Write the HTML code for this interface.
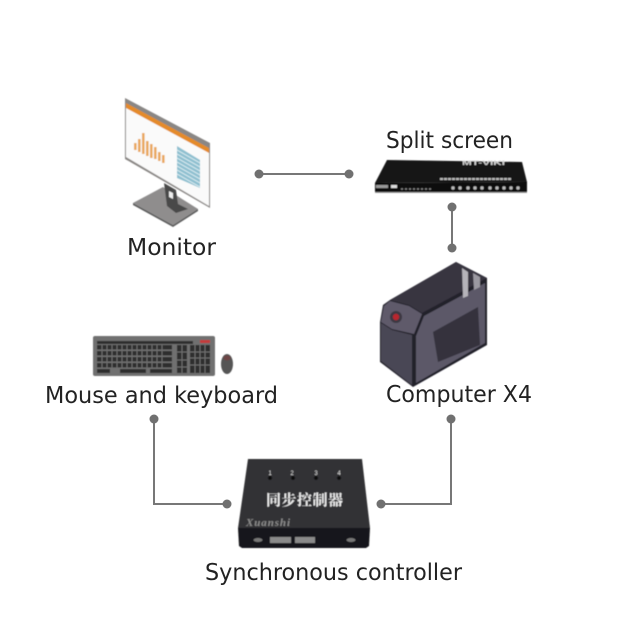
<!DOCTYPE html>
<html><head><meta charset="utf-8"><style>
html,body{margin:0;padding:0;background:#fff;width:640px;height:640px;overflow:hidden}
svg{display:block}
.t{font-family:"DejaVu Sans","Liberation Sans",sans-serif;font-size:23px;fill:#222}
</style></head><body>
<svg width="640" height="640" viewBox="0 0 640 640" xmlns="http://www.w3.org/2000/svg">
<defs><filter id="b" x="-5%" y="-5%" width="110%" height="110%"><feGaussianBlur stdDeviation="0.45"/></filter></defs>
<rect width="640" height="640" fill="#fff"/>
<!-- connectors -->
<g stroke="#777" stroke-width="2" fill="none">
<path d="M259 174H349"/><path d="M452 207V248"/><path d="M154 419V504H227"/><path d="M451 419V504H381"/>
</g>
<g fill="#707070">
<circle cx="259" cy="174" r="4.5"/><circle cx="349" cy="174" r="4.5"/><circle cx="452" cy="207" r="4.5"/><circle cx="452" cy="248" r="4.5"/>
<circle cx="154" cy="419" r="4.5"/><circle cx="227" cy="504" r="4.5"/><circle cx="451" cy="419" r="4.5"/><circle cx="381" cy="504" r="4.5"/>
</g>
<g filter="url(#b)">
<!-- monitor -->
<polygon points="133,203 163,187 198,209 173,225" fill="#8f8d8d"/>
<polygon points="133,203 173,225 198,209 198,211 173,227 133,205" fill="#5c5c5c"/>
<polygon points="164,183 176,190 178,204 188,209 176,213 167,206" fill="#4a4a4a"/>
<polygon points="169,191 173,193 173,199 169,197" fill="#eee"/>
<polygon points="125,98 210,143 210,208 125,159" fill="#8a8785"/>
<polygon points="126,105 209,150 209,206 126,157" fill="#fafafa"/>
<polygon points="126,103 209,148 209,153 126,108" fill="#e48b2c"/>
<g fill="#e9a85d">
<rect x="134" y="143" width="2.6" height="7"/><rect x="138" y="139" width="2.6" height="13"/><rect x="142" y="133" width="2.6" height="21"/><rect x="146" y="141" width="2.6" height="15"/><rect x="150" y="144" width="2.6" height="14"/><rect x="154" y="147" width="2.6" height="12"/><rect x="158" y="152" width="2.6" height="9"/><rect x="162" y="155" width="2.6" height="8"/>
</g>
<polygon points="177,146 200,160 200,188 177,178" fill="#8fc0d0"/>
<g stroke="#e4f1f5" stroke-width=".9">
<path d="M177 150L200 163M177 154L200 167M177 158L200 171M177 162L200 175M177 166L200 179M177 170L200 183M177 174L200 187"/>
</g>
<!-- split screen -->
<polygon points="387,160 522,162 527,182 375,183" fill="#161616"/>
<polygon points="375,183 527,182 527,192 375,192" fill="#0a0a0a"/>
<polygon points="375,192 527,192 527,193 375,193" fill="#999"/>
<text x="462" y="165" font-family="'Liberation Sans',sans-serif" font-size="6" font-weight="bold" fill="#d5d5d5" textLength="43" lengthAdjust="spacingAndGlyphs">MT-VIKI</text>
<path d="M440 179H511" stroke="#bbb" stroke-width="2" stroke-dasharray="3 1"/>
<rect x="376" y="185" width="12" height="3" fill="#999"/><rect x="391" y="185" width="6" height="3" fill="#ddd"/>
<path d="M401 189H432" stroke="#888" stroke-width="1.5" stroke-dasharray="2 2"/>
<g fill="#bbb">
<circle cx="453" cy="188" r="1.7"/><circle cx="460" cy="188" r="1.7"/><circle cx="468" cy="188" r="1.7"/><circle cx="475" cy="188" r="1.7"/><circle cx="482" cy="188" r="1.7"/><circle cx="490" cy="188" r="1.7"/><circle cx="497" cy="188" r="1.7"/><circle cx="504" cy="188" r="1.7"/><circle cx="511" cy="188" r="1.7"/><circle cx="518" cy="188" r="1.7"/>
</g>
<!-- computer -->
<polygon points="456,262 487,278 487,345 413,387 380,362 380,322 383,305 390,300" fill="#23212b"/>
<polygon points="390,300 456,262 487,278 422,313 409,305" fill="#383541"/>
<polygon points="390,301 409,306 422,314 414,334 392,329 381,322 384,306" fill="#5e5a6a"/>
<polygon points="381,323 392,330 412,335 412,385 381,361" fill="#4a4654"/>
<polygon points="416,336 424,316 485,283 485,343 416,383" fill="#5c5868"/>
<polygon points="433,332 478,307 480,345 438,362" fill="#34313c"/>
<polygon points="462,268 468,272 468,296 463,298" fill="#b5b3b9"/>
<polygon points="473,273 480,277 480,287 474,290" fill="#9b99a1"/>
<circle cx="396" cy="317" r="6" fill="#3d3742"/><circle cx="396" cy="317" r="3.2" fill="#b8282e"/>
<!-- keyboard -->
<rect x="93" y="336" width="122" height="40" rx="2" fill="#707070"/>
<g fill="#2d2d2d">
<rect x="97" y="341" width="96" height="3"/>
<rect x="97" y="345" width="75" height="4.5"/><rect x="97" y="351" width="75" height="4.5"/><rect x="97" y="357" width="75" height="4.5"/><rect x="97" y="363" width="75" height="4.5"/><rect x="97" y="369" width="13" height="4"/><rect x="120" y="369" width="26" height="4"/><rect x="150" y="369" width="22" height="4"/>
<rect x="177" y="345" width="10" height="28"/><rect x="190" y="345" width="20" height="28"/>
</g>
<g stroke="#707070" stroke-width="1"><path d="M102 345V368M107 345V368M112 345V368M117 345V368M122 345V368M127 345V368M132 345V368M137 345V368M142 345V368M147 345V368M152 345V368M157 345V368M162 345V368M182 345V373M195 345V373M200 345V373M205 345V373M190 352H210M190 358H210M190 365H210M177 352H187M177 360H187M177 367H187"/></g>
<rect x="200" y="340" width="10" height="3" fill="#c43a3a"/>
<ellipse cx="227" cy="364" rx="6" ry="10" fill="#555"/>
<ellipse cx="227" cy="358" rx="3.5" ry="2.5" fill="#6d4444"/>
<!-- controller -->
<polygon points="248,459 362,459 370,528 238,528" fill="#333335"/>
<polygon points="238,528 370,528 369,546 366,548 242,548 239,546" fill="#19191a"/>
<g fill="#111"><circle cx="270" cy="478" r="2"/><circle cx="293" cy="478" r="2"/><circle cx="316" cy="478" r="2"/><circle cx="339" cy="478" r="2"/></g>
<g font-family="'Liberation Sans',sans-serif" font-size="6" fill="#ddd" text-anchor="middle">
<text x="270" y="475">1</text><text x="292" y="475">2</text><text x="316" y="475">3</text><text x="339" y="475">4</text>
</g>
<text x="266" y="505" font-family="'Noto Serif CJK SC','Noto Sans CJK SC',serif" font-size="15" font-weight="bold" fill="#eee" textLength="77">同步控制器</text>
<text x="246" y="526" font-family="'Liberation Serif',serif" font-size="11" font-weight="bold" font-style="italic" fill="#8a8a8a" textLength="44">Xuanshi</text>
<ellipse cx="258" cy="540" rx="4.5" ry="2" fill="#777"/><ellipse cx="351" cy="540" rx="4.5" ry="2" fill="#777"/>
<rect x="270" y="537" width="21" height="6" fill="#8a8a8a"/><rect x="295" y="537" width="20" height="6" fill="#8a8a8a"/>
</g>
<!-- labels -->
<text class="t" x="127" y="255" textLength="89" lengthAdjust="spacingAndGlyphs">Monitor</text>
<text class="t" x="386" y="148" textLength="127" lengthAdjust="spacingAndGlyphs">Split screen</text>
<text class="t" x="386" y="402" textLength="146" lengthAdjust="spacingAndGlyphs">Computer X4</text>
<text class="t" x="45" y="403" textLength="233" lengthAdjust="spacingAndGlyphs">Mouse and keyboard</text>
<text class="t" x="205" y="580" textLength="257" lengthAdjust="spacingAndGlyphs">Synchronous controller</text>
</svg>
</body></html>
